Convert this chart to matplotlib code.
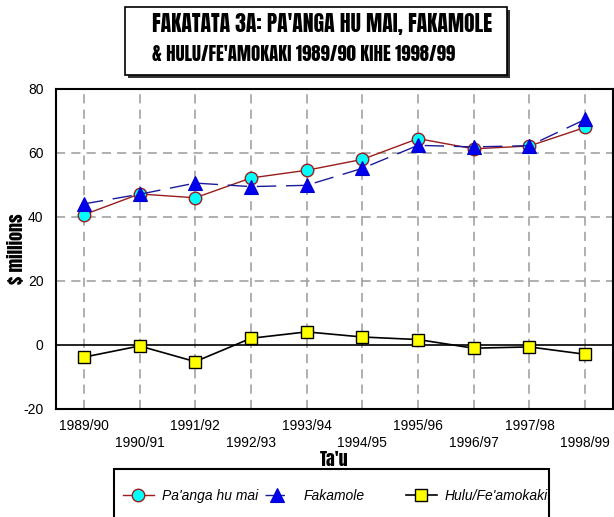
import matplotlib
matplotlib.use("Agg")
import matplotlib.pyplot as plt
from matplotlib.patches import Rectangle

years = ["1989/90", "1990/91", "1991/92", "1992/93", "1993/94",
         "1994/95", "1995/96", "1996/97", "1997/98", "1998/99"]
paanga = [40.7, 47.2, 46.0, 52.2, 54.6, 58.0, 64.5, 61.3, 62.2, 68.0]
fakamole = [44.1, 47.1, 50.6, 49.5, 49.9, 55.2, 62.4, 61.9, 62.3, 70.5]
hulu = [-3.8, -0.3, -5.2, 2.1, 4.1, 2.5, 1.7, -1.0, -0.6, -2.9]
series_names = ["Pa'anga hu mai", "Fakamole", "Hulu/Fe'amokaki"]
yticks = [-20, 0, 20, 40, 60, 80]

HEAVY = ["Anton", "DejaVu Sans"]
plt.rcParams["font.family"] = ["Liberation Sans", "DejaVu Sans"]
plt.rcParams["axes.unicode_minus"] = False

W, H = 614, 517
fig = plt.figure(figsize=(W / 100, H / 100), dpi=100)
ax = fig.add_axes([56 / W, 1 - 409 / H, 557 / W, 320 / H])

x = list(range(len(years)))
l1, = ax.plot(x, paanga, color="#9b1c1c", lw=1.0, marker="o", ms=9,
              mfc="#00ffff", mec="#9b1c1c", mew=1.0, zorder=4)
l2, = ax.plot(x, fakamole, color="#1a1a9a", lw=1.0, dashes=(14, 7), marker="^", ms=9.5,
              mfc="#0000ee", mec="#0000cc", mew=0.8, zorder=5)
l3, = ax.plot(x, hulu, color="black", lw=1.2, marker="s", ms=8,
              mfc="#ffff00", mec="black", mew=1.0, zorder=4)

ax.set_xlim(-0.5, len(years) - 0.5)
ax.set_ylim(-20, 80)
ax.set_yticks(yticks)
ax.set_xticks(x)
ax.set_xticklabels([y if i % 2 == 0 else "\n" + y for i, y in enumerate(years)],
                   fontsize=10, linespacing=1.3)
ax.tick_params(axis="x", length=0, pad=7)
ax.tick_params(axis="y", length=0, pad=9, labelsize=10)

for v in [20, 40, 60]:
    ax.axhline(v, color="#9a9a9a", lw=1.1, dashes=(6, 4), zorder=1)
for xi in x:
    ax.axvline(xi, color="#9a9a9a", lw=1.1, dashes=(6, 4), zorder=1)
ax.axhline(0, color="black", lw=1.2, zorder=2)

for s in ax.spines.values():
    s.set_linewidth(1.5)

ax.set_xlabel("Ta'u", fontsize=13, family=HEAVY)
ax.xaxis.set_label_coords(0.5, -(460 - 409) / 320, transform=ax.transAxes)
ax.xaxis.label.set_va("center")
ax.set_ylabel("$ millions", fontsize=13, family=HEAVY)
ax.yaxis.set_label_coords((16 - 56) / 557, 0.5)
ax.yaxis.label.set_va("center")

# title box with shadow
bx0, by0, bx1, by1 = 125, 7, 507, 75
fig.patches.append(Rectangle(((bx0 + 3) / W, 1 - (by1 + 3) / H), (bx1 - bx0) / W, (by1 - by0) / H,
                             transform=fig.transFigure, facecolor="#333333", edgecolor="none", zorder=0))
fig.patches.append(Rectangle((bx0 / W, 1 - by1 / H), (bx1 - bx0) / W, (by1 - by0) / H,
                             transform=fig.transFigure, facecolor="white", edgecolor="black", lw=1.2, zorder=1))
fig.text(152 / W, 1 - 24 / H, "FAKATATA 3A: PA'ANGA HU MAI, FAKAMOLE", fontsize=15.6,
         family=HEAVY, va="center", ha="left", zorder=3)
fig.text(152 / W, 1 - 54 / H, "& HULU/FE'AMOKAKI 1989/90 KIHE 1998/99", fontsize=13.5,
         family=HEAVY, va="center", ha="left", zorder=3)

# legend box (cut off at bottom)
lx0, ly0, lx1 = 114, 469, 549
fig.patches.append(Rectangle((lx0 / W, -0.05), (lx1 - lx0) / W, (H - ly0) / H + 0.05,
                             transform=fig.transFigure, facecolor="white", edgecolor="black", lw=1.5, zorder=1))
for line, name, hx, hl, tp in zip([l1, l2, l3], series_names, [123, 265, 406],
                                  [2.2, 1.7, 2.2], [0.6, 1.1, 0.6]):
    lg = fig.legend(handles=[line], labels=[name], loc="center left",
                    bbox_to_anchor=(hx / W, 1 - 496 / H), frameon=False,
                    handlelength=hl, handletextpad=tp, borderpad=0, borderaxespad=0,
                    prop={"style": "italic", "size": 10})
    lg.set_zorder(3)

fig.savefig("out.png", dpi=100)
